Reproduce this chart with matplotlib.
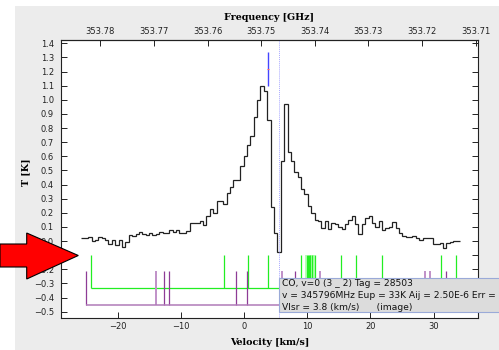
#-------------------------------------------------------------------------------
# CO (3-2) image-sideband spectrum with line identification markers
#-------------------------------------------------------------------------------

import numpy as np
import matplotlib
matplotlib.use('Agg')
import matplotlib.pyplot as plt
from matplotlib.patches import Rectangle, Polygon
from matplotlib.ticker import MultipleLocator, FuncFormatter

#===============================================================================
# DATA
#===============================================================================

# spectrum: first channel edge, channel width [km/s] and brightness [K]
v_start = -25.76
dv = 0.535
temps = [0.02, 0.02, 0.026, 0.0, 0.01, 0.025, 0.02, 0.01, -0.02, 0.01,
         -0.03, 0.005, -0.045, -0.01, 0.04, 0.035, 0.05, 0.066, 0.05, 0.04,
         0.06, 0.04, 0.05, 0.066, 0.06, 0.055, 0.08, 0.066, 0.08, 0.06,
         0.055, 0.07, 0.125, 0.125, 0.125, 0.14, 0.11, 0.18, 0.23, 0.2,
         0.28, 0.28, 0.26, 0.34, 0.38, 0.43, 0.43, 0.53, 0.6, 0.68,
         0.74, 0.88, 1.0, 1.10, 1.06, 0.86, 0.24, 0.055, -0.075, 0.57,
         0.97, 0.63, 0.57, 0.49, 0.45, 0.37, 0.33, 0.25, 0.2, 0.15,
         0.14, 0.09, 0.14, 0.085, 0.13, 0.12, 0.10, 0.085, 0.12, 0.15,
         0.18, 0.12, 0.05, 0.12, 0.16, 0.18, 0.13, 0.10, 0.14, 0.075,
         0.09, 0.10, 0.137, 0.09, 0.06, 0.035, 0.028, 0.028, 0.035, 0.02,
         0.005, 0.02, 0.02, 0.02, -0.02, -0.02, -0.015, -0.05, -0.015, -0.01,
         0.0, 0.0]

# line catalogue markers (velocities in km/s)
green_lines = [-24.26, -3.12, 0.59, 3.84, 8.97, 9.92, 10.08, 10.28, 10.44,
               10.81, 11.28, 15.30, 17.80, 21.91, 31.12, 33.59]
green_light = [9.8, 10.6, 10.95, 11.1]
purple_dark = [-25.03, -12.74, -11.95, -1.27, 0.52, 8.02, 32.04]
purple_light = [-13.96, 6.01, 12.03, 28.64, 29.43]

# identified line (blue marker) and Vlsr (dotted line)
v_line = 3.84
v_dotted = 5.54

# frequency axis conversion
f_ref = 353.7532        # GHz at v = 0
df_dv = 0.001178        # GHz per km/s
freq_ticks = [353.78, 353.77, 353.76, 353.75, 353.74, 353.73, 353.72, 353.71]

tip_lines = ["CO, v=0 (3 _ 2) Tag = 28503",
             "v = 345796MHz Eup = 33K Aij = 2.50E-6 Err =",
             "Vlsr = 3.8 (km/s)      (image)"]

#===============================================================================
# PLOT
#===============================================================================

W, H = 499, 350
fig = plt.figure(figsize=(W / 100, H / 100), dpi=100, facecolor='white')

# grey panel background (screenshot has a white margin at top/left)
fig.add_artist(Rectangle((15 / W, 0), 1, (H - 6) / H, transform=fig.transFigure,
                         facecolor='#ececec', edgecolor='none', zorder=-5))

ax = fig.add_axes([61 / W, (H - 318.3) / H, (477.7 - 61) / W, (318.3 - 40) / H])
ax.set_facecolor('white')

edges = v_start + dv * np.arange(len(temps) + 1)
ax.stairs(temps, edges, color='#222222', lw=0.9, baseline=None)

# catalogue markers
g_top, g_bot = -0.10, -0.335
p_top, p_bot = -0.212, -0.453
ax.vlines(green_light, g_bot, g_top, color='#aaffaa', lw=1.2)
ax.vlines(green_lines, g_bot, g_top, color='#22ee22', lw=0.9)
ax.hlines(g_bot, green_lines[0], green_lines[-1], color='#22ee22', lw=0.9)
ax.vlines(purple_light, p_bot, p_top, color='#c090c8', lw=1.4)
ax.vlines(purple_dark, p_bot, p_top, color='#8e3c96', lw=0.9)
ax.hlines(p_bot, purple_dark[0], purple_dark[-1], color='#b07ab8', lw=1.1)

# identified line
ax.vlines(v_line, 1.10, 1.34, color='#4444ff', lw=1.0)
ax.plot(v_line, 1.217, marker='_', color='#ff6666', ms=1.5, mew=0.8)
ax.axvline(v_dotted, color='#aaaaff', lw=0.7, ls=(0, (1, 1)))

ax.set_xlim(-29, 37)
ax.set_ylim(-0.547, 1.423)
ax.xaxis.set_major_locator(MultipleLocator(10))
ax.yaxis.set_major_locator(MultipleLocator(0.1))
ax.yaxis.set_major_formatter(FuncFormatter(
    lambda y, p: ('%.1f' % (0.0 if abs(y) < 1e-9 else y)).replace('-', '\u2212')))
ax.tick_params(direction='in', length=4.5, width=0.7, labelsize=6, colors='#222222')
ax.tick_params(axis='y', right=True, pad=5)
ax.tick_params(axis='x', pad=3)
for s in ax.spines.values():
    s.set_linewidth(0.8)
    s.set_color('#222222')

secax = ax.secondary_xaxis('top', functions=(lambda v: f_ref - v * df_dv,
                                             lambda f: (f_ref - f) / df_dv))
secax.set_xticks(freq_ticks)
secax.xaxis.set_major_formatter(FuncFormatter(lambda f, p: '%.2f' % f))
secax.tick_params(direction='in', length=4.5, width=0.7, labelsize=6, pad=3, colors='#222222')
secax.set_xlabel('Frequency [GHz]', family='DejaVu Serif', fontweight='bold', fontsize=6.8, labelpad=5)

ax.set_xlabel('Velocity [km/s]', family='DejaVu Serif', fontweight='bold', fontsize=6.8, labelpad=5)
ax.set_ylabel('T [K]', family='DejaVu Serif', fontweight='bold', fontsize=6.8)
ax.yaxis.set_label_coords(-0.074, 0.524)

# tooltip box
fig.add_artist(Rectangle((279.3 / W, (H - 312.3) / H), 0.5, (312.3 - 277.7) / H,
                         transform=fig.transFigure, facecolor='#dcdcdc',
                         edgecolor='#9aaad8', lw=0.8, zorder=10))
for k, t in enumerate(tip_lines):
    fig.text(281.5 / W, (H - 284 - 11.6 * k) / H, t, fontsize=6.6, va='center',
             ha='left', color='#111111', zorder=11)

# red arrow
pts = [(0, 244), (26.7, 244), (26.7, 233), (78.3, 255.5), (26.7, 279), (26.7, 267), (0, 267)]
fig.add_artist(Polygon([(x / W, (H - y) / H) for x, y in pts], closed=True,
                       transform=fig.transFigure, facecolor='#ff0000',
                       edgecolor='black', lw=0.8, zorder=12))

plt.savefig('out.png', dpi=100)
